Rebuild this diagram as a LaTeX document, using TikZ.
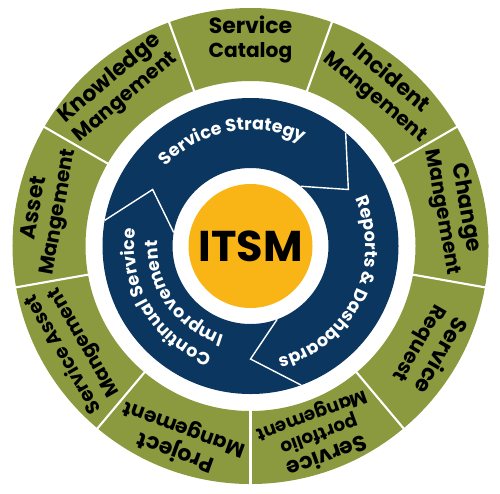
\documentclass[tikz,border=0pt]{standalone}
\usepackage{fontspec}
\setmainfont{Poppins}
\usepackage{tikz}
\usetikzlibrary{decorations.text}

\definecolor{itsmgreen}{RGB}{139,154,63}
\definecolor{itsmblue}{RGB}{10,54,96}
\definecolor{itsmyellow}{RGB}{249,180,22}

\newcommand{\segtop}[1]{{\fontsize{12.5}{14}\selectfont #1}}

\tikzset{
  seglabel/.style={align=center, inner sep=0pt, text=black,
    font=\bfseries\fontsize{11.5}{13.5}\selectfont},
  divider/.style={white, line width=1.2pt},
  chevron/.style={white, line width=0.8pt, line join=miter},
}

\begin{document}
\begin{tikzpicture}
  \useasboundingbox (-5.01,-4.94) rectangle (4.99,4.92);
  \fill[itsmgreen, even odd rule] (0,0) circle (4.76) (0,0) circle (3.30);
  \fill[itsmblue, even odd rule] (0,0) circle (2.96) (0,0) circle (1.56);
  \foreach \a in {30,70,...,350}
    \draw[divider] (\a:3.28) -- (\a:4.78);
  \foreach \a in {30,150,270}
    \draw[chevron] (\a+20:2.96) -- (\a:2.26) -- (\a+20:1.56);
  \node[circle, fill=itsmyellow, minimum size=2.48cm, inner sep=0pt,
    font=\bfseries\fontsize{24.5}{25}\selectfont] (itsm) at (0,0) {ITSM};
  \foreach \a/\t [count=\i] in {90/{\segtop{Service}\\Catalog},
      50/{\segtop{Incident}\\Mangement}, 10/{\segtop{Change}\\Mangement},
      -30/{\segtop{Service}\\Request}, -110/{\segtop{Project}\\Mangement},
      170/{\segtop{Asset}\\Mangement}, 130/{\segtop{Knowledge}\\Mangement}}
    \node[seglabel, rotate=\a-90] (seg\i) at (\a:4.13) {\t};
  \node[seglabel, rotate=-240, font=\bfseries\fontsize{11}{13.5}\selectfont]
    (segasset) at (-150:4.08) {Service Asset\\Mangement};
  \node[seglabel, rotate=-160, font=\bfseries\fontsize{10.5}{11.8}\selectfont]
    (segport) at (-70:4.03) {\segtop{Service}\\portfolio\\Mangement};
  \path[decorate, decoration={text along path, text align=center,
    text={|\bfseries\fontsize{10}{11}\selectfont\color{white}|Service Strategy}}]
    (160:2.32) arc[start angle=160, end angle=40, radius=2.32];
  \path[decorate, decoration={text along path, text align=center,
    text={|\bfseries\fontsize{10}{11}\selectfont\color{white}|Reports {\&} Dashboards}}]
    (44:2.3) arc[start angle=44, end angle=-96, radius=2.3];
  \path[decorate, decoration={text along path, text align=center,
    text={|\bfseries\fontsize{10}{11}\selectfont\color{white}|Continual Service}}]
    (281:2.32) arc[start angle=281, end angle=141, radius=2.32];
  \path[decorate, decoration={text along path, text align=center,
    text={|\bfseries\fontsize{10}{11}\selectfont\color{white}|Improvement}}]
    (285:1.86) arc[start angle=285, end angle=145, radius=1.86];
\end{tikzpicture}
\end{document}
